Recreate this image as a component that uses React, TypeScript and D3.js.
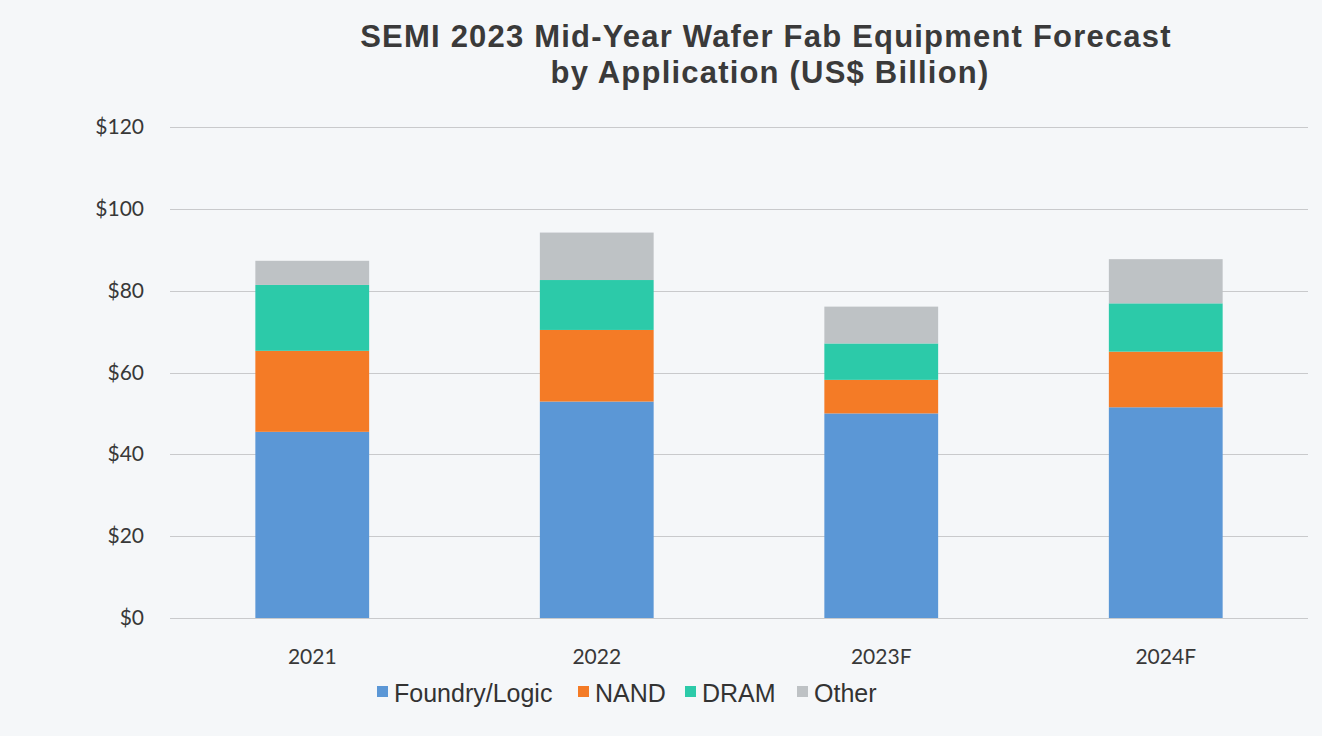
import { useEffect, useRef } from 'react'
import * as d3 from 'd3'

const years = ['2021', '2022', '2023F', '2024F']
const series = ['Foundry/Logic', 'NAND', 'DRAM', 'Other']
const foundry = [45.5, 52.9, 50.0, 51.5]
const nand = [19.8, 17.5, 8.2, 13.6]
const dram = [16.1, 12.2, 8.9, 11.8]
const other = [5.9, 11.6, 9.0, 10.8]
const yTicks = [0, 20, 40, 60, 80, 100, 120]
const colors = ['#5b97d6', '#f47b26', '#2ccaa9', '#bec2c5']
const titleLines = ['SEMI 2023 Mid-Year Wafer Fab Equipment Forecast', 'by Application (US$ Billion)']

const W = 1322
const H = 736
const margin = { top: 127, right: 14, bottom: 118, left: 170 }

export default function App() {
  const svgRef = useRef<SVGSVGElement>(null)

  useEffect(() => {
    if (!svgRef.current) return
    const svg = d3.select(svgRef.current)
    svg.selectAll('*').remove()

    const rows = years.map((y, i) => ({
      year: y,
      'Foundry/Logic': foundry[i],
      NAND: nand[i],
      DRAM: dram[i],
      Other: other[i],
    }))

    const chartW = W - margin.left - margin.right
    const chartH = H - margin.top - margin.bottom

    svg.append('rect').attr('width', W).attr('height', H).attr('fill', '#f5f7f9')

    const x = d3.scaleBand().domain(years).range([0, chartW]).paddingInner(0.6).paddingOuter(0.3)
    const y = d3.scaleLinear().domain([0, 120]).range([chartH, 0])

    const g = svg.append('g').attr('transform', `translate(${margin.left},${margin.top})`)

    // gridlines
    g.selectAll('.grid')
      .data(yTicks)
      .enter().append('line')
      .attr('x1', 0).attr('x2', chartW)
      .attr('y1', d => Math.round(y(d)) + 0.5)
      .attr('y2', d => Math.round(y(d)) + 0.5)
      .attr('stroke', '#c9cacc')
      .attr('stroke-width', 1)

    // y labels
    g.selectAll('.ylab')
      .data(yTicks)
      .enter().append('text')
      .attr('x', -26)
      .attr('y', d => y(d) + 7)
      .attr('text-anchor', 'end')
      .style('font-family', 'Lato, sans-serif')
      .style('font-size', '21px')
      .style('fill', '#383838')
      .text(d => `$${d}`)

    const stack = d3.stack<any>().keys(series)
    const layers = stack(rows as any)

    g.selectAll('.layer')
      .data(layers)
      .enter().append('g')
      .attr('fill', (_, i) => colors[i])
      .selectAll('rect')
      .data(d => d)
      .enter().append('rect')
      .attr('x', d => x(d.data.year) as number)
      .attr('width', x.bandwidth())
      .attr('y', d => y(d[1]))
      .attr('height', d => y(d[0]) - y(d[1]))

    // x labels
    g.selectAll('.xlab')
      .data(years)
      .enter().append('text')
      .attr('x', d => (x(d) as number) + x.bandwidth() / 2)
      .attr('y', chartH + 46)
      .attr('text-anchor', 'middle')
      .style('font-family', 'Lato, sans-serif')
      .style('font-size', '21px')
      .style('fill', '#383838')
      .text(d => d)

    // title
    svg.selectAll('.title')
      .data(titleLines)
      .enter().append('text')
      .attr('x', (_, i) => (i === 0 ? 766 : 770))
      .attr('y', (_, i) => 47 + i * 36)
      .attr('text-anchor', 'middle')
      .style('font-family', '"Liberation Sans", Arial, sans-serif')
      .style('font-weight', 'bold')
      .style('font-size', '31px')
      .style('letter-spacing', '1.2px')
      .style('fill', '#3a3a3a')
      .text(d => d)

    // legend
    const legendX = [377, 578, 685, 797]
    const lg = svg.selectAll('.leg')
      .data(series)
      .enter().append('g')
      .attr('transform', (_, i) => `translate(${legendX[i]},686)`)
    lg.append('rect')
      .attr('width', 11).attr('height', 11)
      .attr('fill', (_, i) => colors[i])
    lg.append('text')
      .attr('x', 17)
      .attr('y', 16)
      .style('font-family', '"Liberation Sans", Arial, sans-serif')
      .style('font-size', '25px')
      .style('fill', '#333333')
      .text(d => d)
  }, [])

  return (
    <svg
      ref={svgRef}
      width={W}
      height={H}
      style={{ position: 'absolute', left: 0, top: 0, display: 'block' }}
    />
  )
}
